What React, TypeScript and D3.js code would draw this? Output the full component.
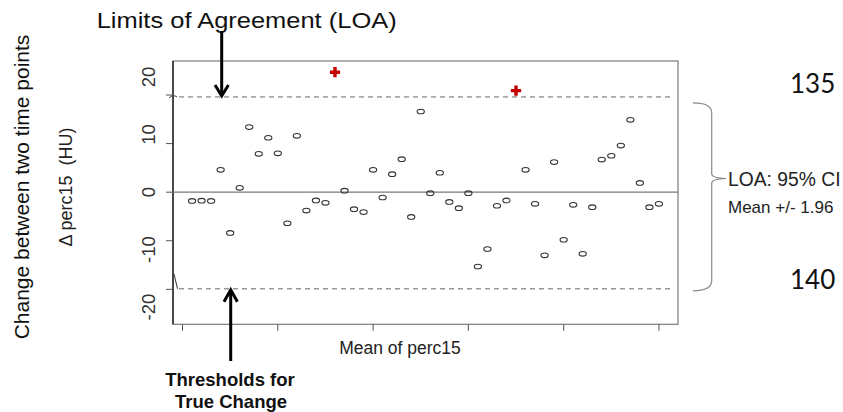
import React from "react";
import * as d3 from "d3";

// ---- data ----
const meanIndex = [
  1, 2, 3, 4, 5, 6, 7, 8, 9, 10, 11, 12, 13, 14, 15, 17, 18, 19, 20, 21, 22, 23, 24, 25,
  26, 27, 28, 29, 30, 31, 32, 33, 34, 36, 37, 38, 39, 40, 41, 42, 43, 44, 45, 46, 47, 48,
  49, 50,
];
const diffValues = [
  -1.8, -1.75, -1.8, 4.6, -8.4, 0.9, 13.4, 7.9, 11.2, 8.0, -6.4, 11.6, -3.8, -1.7, -2.2,
  0.3, -3.5, -4.1, 4.6, -1.1, 3.7, 6.8, -5.1, 16.6, -0.2, 4.0, -2.0, -3.3, -0.2, -15.3,
  -11.7, -2.8, -1.7, 4.6, -2.4, -13.0, 6.2, -9.8, -2.6, -12.7, -3.1, 6.7, 7.5, 9.6, 14.9,
  1.9, -3.1, -2.4,
];
const outlierIndex = [16, 35];
const outlierValues = [24.7, 20.9];
const meanDifference = 0;
const loaUpper = 19.6;
const loaLower = -19.9;
const yTickValues = [-20, -10, 0, 10, 20];
const yTickLabels = ["-20", "-10", "0", "10", "20"];
const xTickValues = [0, 10, 20, 30, 40, 50];
const sideNumbers = ["135", "140"];

const W = 843;
const H = 412;
const box = { left: 173, right: 678, top: 61, bottom: 324.3 };

export default function App() {
  const x = d3.scaleLinear().domain([-1, 52]).range([box.left, box.right]);
  const y = d3.scaleLinear().domain([-27.2, 27.0]).range([box.bottom, box.top]);
  // tick labels of the pasted figure sit on a slightly different spacing
  const yLabel = d3.scaleLinear().domain([-20, 20]).range([307, 77]);
  const cross = d3.symbol().type(d3.symbolCross).size(58)() as string;

  const axisFont = "'Liberation Sans', Arial, Helvetica, sans-serif";
  const yLo = y(loaLower);
  const yHi = y(loaUpper);

  return (
    <svg
      width={W}
      height={H}
      viewBox={`0 0 ${W} ${H}`}
      style={{ position: "absolute", left: 0, top: 0, background: "#fff" }}
      fontFamily={axisFont}
    >
      {/* plot box */}
      <rect
        x={box.left}
        y={box.top}
        width={box.right - box.left}
        height={box.bottom - box.top}
        fill="none"
        stroke="#7a7a7a"
        strokeWidth={1.2}
      />
      <line x1={box.left} x2={box.left} y1={box.top} y2={box.bottom} stroke="#111" strokeWidth={1.3} />

      {/* mean line and LOA */}
      <line x1={box.left} x2={box.right} y1={y(meanDifference)} y2={y(meanDifference)} stroke="#7a7a7a" strokeWidth={1.4} />
      <line x1={box.left + 6} x2={box.right - 6} y1={yHi} y2={yHi} stroke="#666" strokeWidth={1} strokeDasharray="5,4" />
      <line x1={box.left + 6} x2={box.right - 6} y1={yLo} y2={yLo} stroke="#666" strokeWidth={1} strokeDasharray="5,4" />

      {/* y ticks */}
      {yTickValues.map((v) => (
        <line key={"yt" + v} x1={box.left - 7} x2={box.left} y1={y(v)} y2={y(v)} stroke="#555" strokeWidth={1} />
      ))}
      {yTickValues.map((v, i) => (
        <text
          key={"yl" + v}
          transform={`translate(155,${yLabel(v)}) rotate(-90)`}
          textAnchor="middle"
          fontSize={18.5}
          fill="#333"
        >
          {yTickLabels[i]}
        </text>
      ))}
      {/* small fragments near axis */}
      <path d={`M${box.left - 4},${yHi + 1} Q${box.left},${yHi - 3} ${box.left + 4},${yHi}`} fill="none" stroke="#444" strokeWidth={1} />
      <line x1={box.left + 1} y1={yLo - 15} x2={box.left + 4.5} y2={yLo} stroke="#333" strokeWidth={1} />

      {/* x ticks */}
      {xTickValues.map((v) => (
        <line key={"xt" + v} x1={x(v)} x2={x(v)} y1={box.bottom} y2={box.bottom + 6.5} stroke="#555" strokeWidth={1} />
      ))}

      {/* points */}
      {meanIndex.map((m, i) => (
        <ellipse key={"p" + i} cx={x(m)} cy={y(diffValues[i])} rx={3.6} ry={2.3} fill="none" stroke="#333" strokeWidth={1.1} />
      ))}
      {outlierIndex.map((m, i) => (
        <path key={"o" + i} d={cross} transform={`translate(${x(m)},${y(outlierValues[i])})`} fill="#c40000" />
      ))}

      {/* axis titles */}
      <text x={400} y={354} textAnchor="middle" fontSize={17.5} fill="#222">
        Mean of perc15
      </text>
      <text transform="translate(72,187) rotate(-90)" textAnchor="middle" fontSize={18} fill="#222" style={{ whiteSpace: "pre" }}>
        {"Δ perc15  (HU)"}
      </text>
      <text transform="translate(29,187) rotate(-90)" textAnchor="middle" fontSize={21} fill="#111">
        Change between two time points
      </text>

      {/* top annotation */}
      <text x={96.7} y={28.3} fontSize={22} fill="#111" textLength={300} lengthAdjust="spacingAndGlyphs">
        Limits of Agreement (LOA)
      </text>
      <line x1={221.7} x2={221.7} y1={31} y2={yHi - 2} stroke="#000" strokeWidth={3} />
      <path d={`M215,${yHi - 12} L221.7,${yHi - 1} L228.4,${yHi - 12}`} fill="none" stroke="#000" strokeWidth={3} />

      {/* bottom annotation */}
      <line x1={230.7} x2={230.7} y1={361} y2={yLo + 2} stroke="#000" strokeWidth={3} />
      <path d={`M224,${yLo + 13} L230.7,${yLo + 1} L237.4,${yLo + 13}`} fill="none" stroke="#000" strokeWidth={3} />
      <text x={230} y={386} textAnchor="middle" fontSize={18.5} fontWeight="bold" fill="#111">
        Thresholds for
      </text>
      <text x={231} y={408} textAnchor="middle" fontSize={18.5} fontWeight="bold" fill="#111">
        True Change
      </text>

      {/* right bracket */}
      <path
        d={`M693,${yHi + 6} Q711.7,${yHi + 6} 711.7,${yHi + 16} L711.7,174 Q711.7,178 726,178.5 Q711.7,179 711.7,183 L711.7,${yLo - 8} Q711.7,${yLo + 2} 693,${yLo + 2}`}
        fill="none"
        stroke="#8a8a8a"
        strokeWidth={1.2}
      />
      <text x={728} y={186} fontSize={19.3} fill="#222">
        LOA: 95% CI
      </text>
      <text x={728} y={213} fontSize={17} fill="#222">
        Mean +/- 1.96
      </text>
      <text x={790} y={93.3} fontSize={26} fontFamily="Lato, 'Open Sans', sans-serif" fill="#111">
        {sideNumbers[0]}
      </text>
      <text x={790} y={289} fontSize={26} fontFamily="Lato, 'Open Sans', sans-serif" fill="#111">
        {sideNumbers[1]}
      </text>
    </svg>
  );
}
